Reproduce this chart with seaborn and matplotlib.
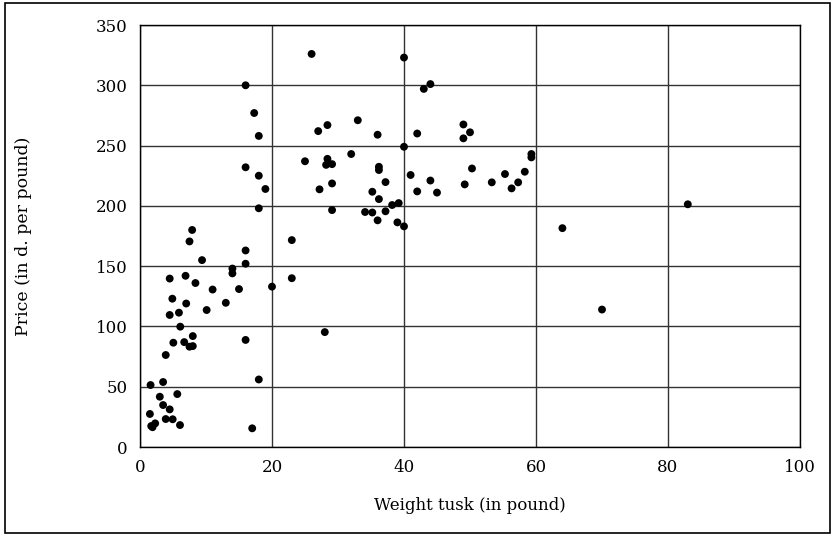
import numpy as np
import pandas as pd
import seaborn as sns
import matplotlib.pyplot as plt
from matplotlib.patches import Rectangle

# Tusk weight (pound) and price (d. per pound)
weight = [26, 40, 16, 43, 44, 17.3, 33, 28.4, 27, 18, 36, 42, 49, 50, 49, 40,
          25, 32, 28.4, 28.2, 29.1, 36.2, 36.2, 16, 18, 19, 27.2, 29.1, 18, 29.1,
          35.2, 36.2, 37.2, 37.2, 34.1, 35.2, 38.2, 39.2, 36, 39, 40, 41, 42, 44,
          45, 50.3, 49.2, 53.3, 55.3, 56.3, 57.3, 58.3, 59.3, 59.3, 83, 64, 70,
          23, 23, 20, 16, 16, 14, 14, 15, 13, 11, 9.4, 7.9, 7.5, 8.4, 6.9, 7,
          10.1, 4.5, 4.9, 5.9, 4.5, 6.1, 5.05, 6.7, 8, 7.5, 8, 3.9, 16, 28, 18,
          17, 1.6, 3.5, 5.65, 3.0, 3.5, 4.5, 3.9, 4.95, 1.5, 1.7, 1.9, 2.3, 6.06]
price = [326, 323, 300, 297, 301, 277, 271, 267, 262, 258, 259, 260, 267.5, 261, 256, 249,
         237, 243, 239, 234, 234.6, 232.4, 229.7, 232, 225, 214, 213.7, 218.6, 198, 196.5,
         211.7, 205.6, 219.7, 195.5, 194.9, 194.5, 200.7, 202.3, 188, 186.3, 183, 225.6, 212, 221,
         211, 231, 217.8, 219.5, 226.4, 214.5, 219.5, 228.3, 243, 240.2, 201.3, 181.5, 114,
         171.6, 140, 133, 163, 152, 148, 144, 131, 119.6, 130.6, 155, 180, 170.5, 136, 142, 119,
         113.6, 139.7, 123, 111.4, 109.5, 99.8, 86.5, 87, 92, 83.2, 83.7, 76.3, 88.8, 95.3, 56,
         15.5, 51.4, 53.9, 43.9, 41.7, 34.8, 31.2, 23.2, 23, 27.4, 17.4, 16.4, 19.6, 18.2]

df = pd.DataFrame({'weight': weight, 'price': price})

sns.set_style('white')
plt.rcParams['font.family'] = ['DejaVu Serif']
plt.rcParams['text.color'] = 'black'
plt.rcParams['axes.labelcolor'] = 'black'
plt.rcParams['xtick.color'] = 'black'
plt.rcParams['ytick.color'] = 'black'

fig = plt.figure(figsize=(8.34, 5.34), dpi=100)
ax = fig.add_axes([140 / 834, 1 - 447 / 534, 660 / 834, 422 / 534])

sns.scatterplot(data=df, x='weight', y='price', color='black', s=32,
                edgecolor='none', ax=ax, zorder=3)

ax.set_xlim(0, 100)
ax.set_ylim(0, 350)
ax.set_xticks(range(0, 101, 20))
ax.set_yticks(range(0, 351, 50))
ax.grid(True, color='#333333', linewidth=1)
ax.set_axisbelow(True)
for sp in ax.spines.values():
    sp.set_color('black')
    sp.set_linewidth(1)
ax.tick_params(axis='both', length=0, labelsize=12, pad=9)
ax.set_xlabel('Weight tusk (in pound)', fontsize=12, labelpad=15)
ax.set_ylabel('Price (in d. per pound)', fontsize=12.5, labelpad=46)

# outer frame around the whole chart
fig.patches.append(Rectangle((5 / 834, 1 / 534), 825 / 834, 530 / 534,
                             transform=fig.transFigure, fill=False,
                             edgecolor='black', linewidth=1.2))

fig.savefig('out.png', dpi=100)
